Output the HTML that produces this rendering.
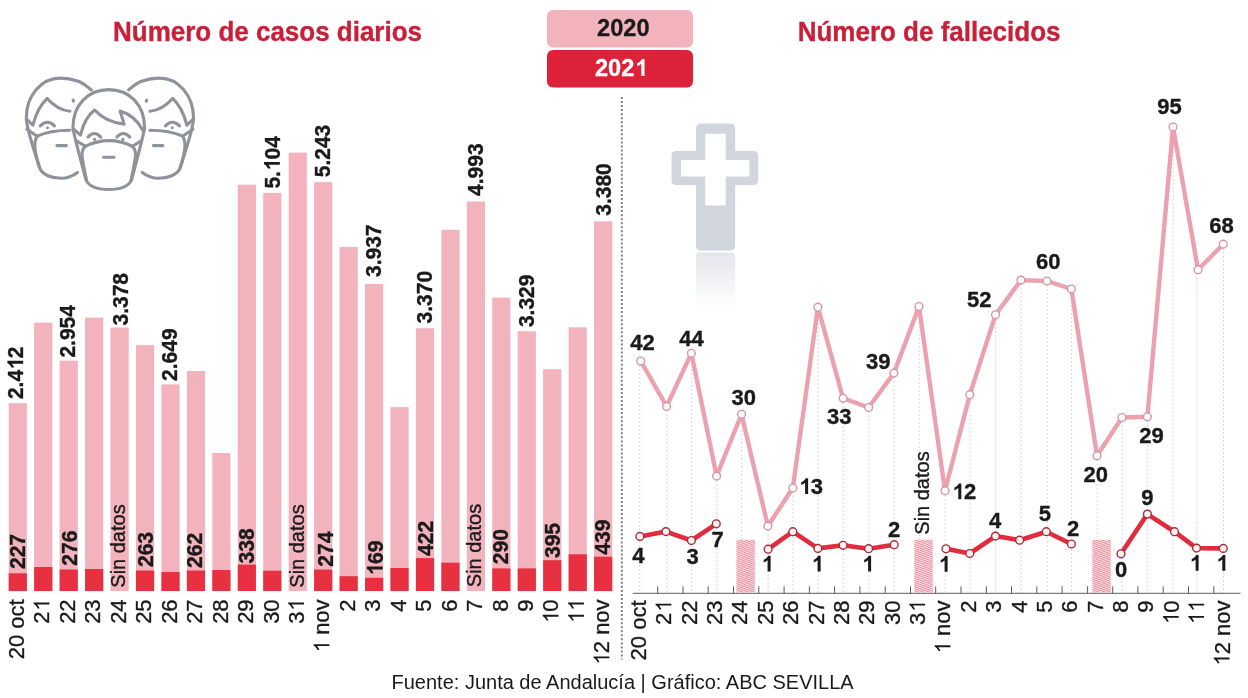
<!DOCTYPE html>
<html lang="es"><head><meta charset="utf-8"><title>Casos diarios y fallecidos</title>
<style>html,body{margin:0;padding:0;background:#fff}body{width:1248px;height:698px;overflow:hidden}svg{display:block}text{font-family:"Liberation Sans", sans-serif;white-space:pre}.k text,.k path,.k2{stroke:#1a1a1a;stroke-width:.35px}</style>
</head><body>
<svg width="1248" height="698" viewBox="0 0 1248 698" style="will-change:transform;filter:blur(.4px)">
<defs>
<pattern id="hatch" width="2" height="2" patternUnits="userSpaceOnUse" patternTransform="rotate(20)"><rect width="2" height="2" fill="#fde6e9"/><rect width="2" height="1" fill="#e98a9a"/></pattern>
<linearGradient id="refl" x1="0" y1="0" x2="0" y2="1"><stop offset="0" stop-color="#d1d6de" stop-opacity="0.62"/><stop offset="0.35" stop-color="#d1d6de" stop-opacity="0.4"/><stop offset="0.7" stop-color="#d1d6de" stop-opacity="0.16"/><stop offset="1" stop-color="#d1d6de" stop-opacity="0"/></linearGradient>
</defs>
<rect width="1248" height="698" fill="#ffffff"/>
<text transform="translate(113 41.3) scale(1 1.05)" font-size="26" font-weight="700" fill="#c91f38" stroke="#c91f38" stroke-width=".35">Número de casos diarios</text>
<text transform="translate(797.7 41.0) scale(1 1.05)" font-size="26" font-weight="700" fill="#c91f38" stroke="#c91f38" stroke-width=".35">Número de fallecidos</text>
<rect x="547" y="10" width="146" height="37.5" rx="6" fill="#f2b3bd"/>
<rect x="547" y="50" width="146" height="37.5" rx="6" fill="#dc2139"/>
<g transform="translate(623.3 36.3)" font-size="23.6" font-weight="700" fill="#1a1a1a" stroke="#1a1a1a" stroke-width=".3"><text x="-26.25" y="0">2020</text></g>
<g transform="translate(621.2 75.9)" font-size="23.6" font-weight="700" fill="#ffffff" stroke="#ffffff" stroke-width=".3"><text x="-26.25" y="0">202</text><path transform="translate(14.05 0) scale(0.01152 -0.01152)" d="M806 0H525V1059Q371 915 162 846V1101Q272 1137 401 1237.5Q530 1338 578 1472H806Z"/></g>
<line x1="621.8" y1="97" x2="621.8" y2="659.5" stroke="#757575" stroke-width="1.8" stroke-dasharray="2 2.04"/>
<g id="bars">
<rect x="8.70" y="403.20" width="18.20" height="187.80" fill="#f2b3bd"/>
<rect x="8.70" y="573.30" width="18.20" height="17.70" fill="#e73140"/>
<rect x="34.15" y="322.60" width="18.20" height="268.40" fill="#f2b3bd"/>
<rect x="34.15" y="567.00" width="18.20" height="24.00" fill="#e73140"/>
<rect x="59.60" y="360.60" width="18.20" height="230.40" fill="#f2b3bd"/>
<rect x="59.60" y="569.50" width="18.20" height="21.50" fill="#e73140"/>
<rect x="85.05" y="317.60" width="18.20" height="273.40" fill="#f2b3bd"/>
<rect x="85.05" y="569.00" width="18.20" height="22.00" fill="#e73140"/>
<rect x="110.50" y="327.50" width="18.20" height="263.50" fill="#f2b3bd"/>
<rect x="135.95" y="345.10" width="18.20" height="245.90" fill="#f2b3bd"/>
<rect x="135.95" y="570.50" width="18.20" height="20.50" fill="#e73140"/>
<rect x="161.40" y="384.40" width="18.20" height="206.60" fill="#f2b3bd"/>
<rect x="161.40" y="572.00" width="18.20" height="19.00" fill="#e73140"/>
<rect x="186.85" y="371.00" width="18.20" height="220.00" fill="#f2b3bd"/>
<rect x="186.85" y="570.50" width="18.20" height="20.50" fill="#e73140"/>
<rect x="212.30" y="453.00" width="18.20" height="138.00" fill="#f2b3bd"/>
<rect x="212.30" y="570.00" width="18.20" height="21.00" fill="#e73140"/>
<rect x="237.75" y="184.70" width="18.20" height="406.30" fill="#f2b3bd"/>
<rect x="237.75" y="564.60" width="18.20" height="26.40" fill="#e73140"/>
<rect x="263.20" y="192.90" width="18.20" height="398.10" fill="#f2b3bd"/>
<rect x="263.20" y="570.70" width="18.20" height="20.30" fill="#e73140"/>
<rect x="288.65" y="152.60" width="18.20" height="438.40" fill="#f2b3bd"/>
<rect x="314.10" y="182.10" width="18.20" height="408.90" fill="#f2b3bd"/>
<rect x="314.10" y="569.60" width="18.20" height="21.40" fill="#e73140"/>
<rect x="339.55" y="246.90" width="18.20" height="344.10" fill="#f2b3bd"/>
<rect x="339.55" y="576.20" width="18.20" height="14.80" fill="#e73140"/>
<rect x="365.00" y="283.90" width="18.20" height="307.10" fill="#f2b3bd"/>
<rect x="365.00" y="577.80" width="18.20" height="13.20" fill="#e73140"/>
<rect x="390.45" y="407.10" width="18.20" height="183.90" fill="#f2b3bd"/>
<rect x="390.45" y="568.00" width="18.20" height="23.00" fill="#e73140"/>
<rect x="415.90" y="328.20" width="18.20" height="262.80" fill="#f2b3bd"/>
<rect x="415.90" y="558.10" width="18.20" height="32.90" fill="#e73140"/>
<rect x="441.35" y="229.80" width="18.20" height="361.20" fill="#f2b3bd"/>
<rect x="441.35" y="562.70" width="18.20" height="28.30" fill="#e73140"/>
<rect x="466.80" y="201.50" width="18.20" height="389.50" fill="#f2b3bd"/>
<rect x="492.25" y="297.60" width="18.20" height="293.40" fill="#f2b3bd"/>
<rect x="492.25" y="568.40" width="18.20" height="22.60" fill="#e73140"/>
<rect x="517.70" y="331.30" width="18.20" height="259.70" fill="#f2b3bd"/>
<rect x="517.70" y="568.40" width="18.20" height="22.60" fill="#e73140"/>
<rect x="543.15" y="369.20" width="18.20" height="221.80" fill="#f2b3bd"/>
<rect x="543.15" y="560.20" width="18.20" height="30.80" fill="#e73140"/>
<rect x="568.60" y="327.30" width="18.20" height="263.70" fill="#f2b3bd"/>
<rect x="568.60" y="554.30" width="18.20" height="36.70" fill="#e73140"/>
<rect x="594.05" y="221.40" width="18.20" height="369.60" fill="#f2b3bd"/>
<rect x="594.05" y="556.70" width="18.20" height="34.30" fill="#e73140"/>
</g>
<g id="barlabels" class="k" font-weight="700" font-size="22" fill="#1a1a1a">
<g transform="translate(23.20 399.10) rotate(-90) scale(0.955 1)"><text x="0.00" y="0">2.4</text><path transform="translate(31.44 0) scale(0.01074 -0.01074)" d="M806 0H525V1059Q371 915 162 846V1101Q272 1137 401 1237.5Q530 1338 578 1472H806Z"/><text x="42.82" y="0">2</text></g>
<g transform="translate(24.80 569.10) rotate(-90) scale(0.96 1)"><text x="0.00" y="0">227</text></g>
<g transform="translate(74.80 357.60) rotate(-90) scale(0.955 1)"><text x="0.00" y="0">2.954</text></g>
<g transform="translate(76.80 565.70) rotate(-90) scale(0.96 1)"><text x="0.00" y="0">276</text></g>
<g transform="translate(128.20 325.50) rotate(-90) scale(0.955 1)"><text x="0.00" y="0">3.378</text></g>
<g transform="translate(152.75 567.10) rotate(-90) scale(0.96 1)"><text x="0.00" y="0">263</text></g>
<g transform="translate(177.20 380.90) rotate(-90) scale(0.955 1)"><text x="0.00" y="0">2.649</text></g>
<g transform="translate(202.15 568.00) rotate(-90) scale(0.96 1)"><text x="0.00" y="0">262</text></g>
<g transform="translate(253.65 563.40) rotate(-90) scale(0.96 1)"><text x="0.00" y="0">338</text></g>
<g transform="translate(279.80 188.60) rotate(-90) scale(0.955 1)"><text x="0.00" y="0">5.</text><path transform="translate(19.21 0) scale(0.01074 -0.01074)" d="M806 0H525V1059Q371 915 162 846V1101Q272 1137 401 1237.5Q530 1338 578 1472H806Z"/><text x="30.58" y="0">04</text></g>
<g transform="translate(329.80 177.30) rotate(-90) scale(0.955 1)"><text x="0.00" y="0">5.243</text></g>
<g transform="translate(332.70 566.80) rotate(-90) scale(0.96 1)"><text x="0.00" y="0">274</text></g>
<g transform="translate(380.90 277.00) rotate(-90) scale(0.955 1)"><text x="0.00" y="0">3.937</text></g>
<g transform="translate(382.70 575.70) rotate(-90) scale(0.96 1)"><path transform="translate(0.86 0) scale(0.01074 -0.01074)" d="M806 0H525V1059Q371 915 162 846V1101Q272 1137 401 1237.5Q530 1338 578 1472H806Z"/><text x="12.24" y="0">69</text></g>
<g transform="translate(432.10 323.40) rotate(-90) scale(0.955 1)"><text x="0.00" y="0">3.370</text></g>
<g transform="translate(433.10 556.00) rotate(-90) scale(0.96 1)"><text x="0.00" y="0">422</text></g>
<g transform="translate(483.30 195.90) rotate(-90) scale(0.955 1)"><text x="0.00" y="0">4.993</text></g>
<g transform="translate(508.45 564.20) rotate(-90) scale(0.96 1)"><text x="0.00" y="0">290</text></g>
<g transform="translate(534.10 327.10) rotate(-90) scale(0.955 1)"><text x="0.00" y="0">3.329</text></g>
<g transform="translate(559.65 558.10) rotate(-90) scale(0.96 1)"><text x="0.00" y="0">395</text></g>
<g transform="translate(610.75 215.80) rotate(-90) scale(0.955 1)"><text x="0.00" y="0">3.380</text></g>
<g transform="translate(610.45 554.70) rotate(-90) scale(0.96 1)"><text x="0.00" y="0">439</text></g>
</g>
<g id="sindatos" class="k" font-size="20" fill="#1a1a1a">
<text transform="translate(124.90 587.70) rotate(-90) scale(1 1.04)">Sin datos</text>
<text transform="translate(304.25 587.70) rotate(-90) scale(1 1.04)">Sin datos</text>
<text transform="translate(481.10 587.20) rotate(-90) scale(1 1.04)">Sin datos</text>
</g>
<g id="xl" class="k" font-size="22" fill="#1a1a1a">
<g transform="translate(24.00 599.40) rotate(-90)"><text x="-59.93" y="0">20 oct</text></g>
<g transform="translate(49.45 599.40) rotate(-90)"><text x="-24.47" y="0">2</text><path transform="translate(-11.38 0) scale(0.01074 -0.01074)" d="M763 0H583V1147Q518 1085 412.5 1023Q307 961 223 930V1104Q374 1175 487 1276Q600 1377 647 1472H763Z"/></g>
<g transform="translate(74.90 599.40) rotate(-90)"><text x="-24.47" y="0">22</text></g>
<g transform="translate(100.35 599.40) rotate(-90)"><text x="-24.47" y="0">23</text></g>
<g transform="translate(125.80 599.40) rotate(-90)"><text x="-24.47" y="0">24</text></g>
<g transform="translate(151.25 599.40) rotate(-90)"><text x="-24.47" y="0">25</text></g>
<g transform="translate(176.70 599.40) rotate(-90)"><text x="-24.47" y="0">26</text></g>
<g transform="translate(202.15 599.40) rotate(-90)"><text x="-24.47" y="0">27</text></g>
<g transform="translate(227.60 599.40) rotate(-90)"><text x="-24.47" y="0">28</text></g>
<g transform="translate(253.05 599.40) rotate(-90)"><text x="-24.47" y="0">29</text></g>
<g transform="translate(278.50 599.40) rotate(-90)"><text x="-24.47" y="0">30</text></g>
<g transform="translate(303.95 599.40) rotate(-90)"><text x="-24.47" y="0">3</text><path transform="translate(-11.38 0) scale(0.01074 -0.01074)" d="M763 0H583V1147Q518 1085 412.5 1023Q307 961 223 930V1104Q374 1175 487 1276Q600 1377 647 1472H763Z"/></g>
<g transform="translate(329.40 599.40) rotate(-90)"><path transform="translate(-52.96 0) scale(0.01074 -0.01074)" d="M763 0H583V1147Q518 1085 412.5 1023Q307 961 223 930V1104Q374 1175 487 1276Q600 1377 647 1472H763Z"/><text x="-41.58" y="0"> nov</text></g>
<g transform="translate(354.85 599.40) rotate(-90)"><text x="-12.24" y="0">2</text></g>
<g transform="translate(380.30 599.40) rotate(-90)"><text x="-12.24" y="0">3</text></g>
<g transform="translate(405.75 599.40) rotate(-90)"><text x="-12.24" y="0">4</text></g>
<g transform="translate(431.20 599.40) rotate(-90)"><text x="-12.24" y="0">5</text></g>
<g transform="translate(456.65 599.40) rotate(-90)"><text x="-12.24" y="0">6</text></g>
<g transform="translate(482.10 599.40) rotate(-90)"><text x="-12.24" y="0">7</text></g>
<g transform="translate(507.55 599.40) rotate(-90)"><text x="-12.24" y="0">8</text></g>
<g transform="translate(533.00 599.40) rotate(-90)"><text x="-12.24" y="0">9</text></g>
<g transform="translate(558.45 599.40) rotate(-90)"><path transform="translate(-23.61 0) scale(0.01074 -0.01074)" d="M763 0H583V1147Q518 1085 412.5 1023Q307 961 223 930V1104Q374 1175 487 1276Q600 1377 647 1472H763Z"/><text x="-12.24" y="0">0</text></g>
<g transform="translate(583.90 599.40) rotate(-90)"><path transform="translate(-23.61 0) scale(0.01074 -0.01074)" d="M763 0H583V1147Q518 1085 412.5 1023Q307 961 223 930V1104Q374 1175 487 1276Q600 1377 647 1472H763Z"/><path transform="translate(-11.38 0) scale(0.01074 -0.01074)" d="M763 0H583V1147Q518 1085 412.5 1023Q307 961 223 930V1104Q374 1175 487 1276Q600 1377 647 1472H763Z"/></g>
<g transform="translate(609.35 599.40) rotate(-90)"><path transform="translate(-65.19 0) scale(0.01074 -0.01074)" d="M763 0H583V1147Q518 1085 412.5 1023Q307 961 223 930V1104Q374 1175 487 1276Q600 1377 647 1472H763Z"/><text x="-53.82" y="0">2 nov</text></g>
</g>
<g id="guides" stroke="#cfd1d3" stroke-width="1" stroke-dasharray="1.7 2.3">
<line x1="639.7" y1="365.0" x2="639.7" y2="593.3"/>
<line x1="666.8" y1="410.4" x2="666.8" y2="593.3"/>
<line x1="691.6" y1="357.3" x2="691.6" y2="593.3"/>
<line x1="716.8" y1="480.1" x2="716.8" y2="593.3"/>
<line x1="741.7" y1="418.3" x2="741.7" y2="593.3"/>
<line x1="768.1" y1="530.1" x2="768.1" y2="593.3"/>
<line x1="793.0" y1="492.0" x2="793.0" y2="593.3"/>
<line x1="818.1" y1="311.2" x2="818.1" y2="593.3"/>
<line x1="843.3" y1="402.3" x2="843.3" y2="593.3"/>
<line x1="868.8" y1="411.5" x2="868.8" y2="593.3"/>
<line x1="894.1" y1="377.1" x2="894.1" y2="593.3"/>
<line x1="919.2" y1="310.5" x2="919.2" y2="593.3"/>
<line x1="945.2" y1="494.7" x2="945.2" y2="593.3"/>
<line x1="970.0" y1="398.7" x2="970.0" y2="593.3"/>
<line x1="995.7" y1="318.8" x2="995.7" y2="593.3"/>
<line x1="1021.2" y1="284.1" x2="1021.2" y2="593.3"/>
<line x1="1047.2" y1="285.0" x2="1047.2" y2="593.3"/>
<line x1="1071.6" y1="293.0" x2="1071.6" y2="593.3"/>
<line x1="1097.2" y1="459.8" x2="1097.2" y2="593.3"/>
<line x1="1122.2" y1="421.5" x2="1122.2" y2="593.3"/>
<line x1="1147.6" y1="420.8" x2="1147.6" y2="593.3"/>
<line x1="1173.2" y1="131.0" x2="1173.2" y2="593.3"/>
<line x1="1196.7" y1="273.7" x2="1196.7" y2="593.3"/>
<line x1="1223.5" y1="248.2" x2="1223.5" y2="593.3"/>
</g>
<line x1="632.8" y1="593.3" x2="1240.5" y2="593.3" stroke="#4a4a4a" stroke-width="0.9"/>
<g stroke="#4a4a4a" stroke-width="0.9">
<line x1="657.7" y1="586.3" x2="657.7" y2="593.3"/>
<line x1="683.0" y1="586.3" x2="683.0" y2="593.3"/>
<line x1="708.2" y1="586.3" x2="708.2" y2="593.3"/>
<line x1="733.5" y1="586.3" x2="733.5" y2="593.3"/>
<line x1="758.8" y1="586.3" x2="758.8" y2="593.3"/>
<line x1="784.1" y1="586.3" x2="784.1" y2="593.3"/>
<line x1="809.4" y1="586.3" x2="809.4" y2="593.3"/>
<line x1="834.6" y1="586.3" x2="834.6" y2="593.3"/>
<line x1="859.9" y1="586.3" x2="859.9" y2="593.3"/>
<line x1="885.2" y1="586.3" x2="885.2" y2="593.3"/>
<line x1="910.5" y1="586.3" x2="910.5" y2="593.3"/>
<line x1="935.7" y1="586.3" x2="935.7" y2="593.3"/>
<line x1="961.0" y1="586.3" x2="961.0" y2="593.3"/>
<line x1="986.3" y1="586.3" x2="986.3" y2="593.3"/>
<line x1="1011.5" y1="586.3" x2="1011.5" y2="593.3"/>
<line x1="1036.8" y1="586.3" x2="1036.8" y2="593.3"/>
<line x1="1062.1" y1="586.3" x2="1062.1" y2="593.3"/>
<line x1="1087.4" y1="586.3" x2="1087.4" y2="593.3"/>
<line x1="1112.7" y1="586.3" x2="1112.7" y2="593.3"/>
<line x1="1137.9" y1="586.3" x2="1137.9" y2="593.3"/>
<line x1="1163.2" y1="586.3" x2="1163.2" y2="593.3"/>
<line x1="1188.5" y1="586.3" x2="1188.5" y2="593.3"/>
<line x1="1213.8" y1="586.3" x2="1213.8" y2="593.3"/>
</g>
<rect x="736.4" y="539.8" width="18.5" height="52.6" fill="url(#hatch)"/>
<rect x="914.3" y="539.8" width="18.5" height="52.6" fill="url(#hatch)"/>
<rect x="1092.3" y="539.8" width="18.5" height="52.6" fill="url(#hatch)"/>
<polyline points="640.7,361.0 666.6,406.4 691.4,353.3 716.6,476.1 741.5,414.3 767.9,526.1 792.8,488.0 817.9,307.2 843.1,398.3 868.6,407.5 893.9,373.1 919.0,306.5 945.0,490.7 969.8,394.7 995.5,314.8 1021.0,280.1 1047.0,281.0 1071.4,289.0 1097.0,455.8 1122.0,417.5 1147.4,416.8 1173.0,127.0 1198.0,269.7 1223.3,244.2" fill="none" stroke="#eca1ae" stroke-width="4.4" stroke-linejoin="round" stroke-linecap="round"/>
<polyline points="639.9,536.4 665.9,531.6 691.4,540.5 716.3,523.8" fill="none" stroke="#e22b3c" stroke-width="4.6" stroke-linejoin="round" stroke-linecap="round"/>
<polyline points="768.1,549.2 792.8,531.7 817.9,548.4 843.1,545.3 868.6,548.7 894.2,544.7" fill="none" stroke="#e22b3c" stroke-width="4.6" stroke-linejoin="round" stroke-linecap="round"/>
<polyline points="946.0,548.8 969.8,553.5 995.5,536.1 1019.6,540.2 1046.3,531.7 1071.4,544.0" fill="none" stroke="#e22b3c" stroke-width="4.6" stroke-linejoin="round" stroke-linecap="round"/>
<polyline points="1121.0,553.8 1147.4,514.1 1174.5,531.7 1196.5,548.1 1223.3,548.4" fill="none" stroke="#e22b3c" stroke-width="4.6" stroke-linejoin="round" stroke-linecap="round"/>
<g fill="#fffafa" stroke="#cf98a7" stroke-width="1.4">
<circle cx="640.7" cy="361.0" r="3.9"/>
<circle cx="666.6" cy="406.4" r="3.9"/>
<circle cx="691.4" cy="353.3" r="3.9"/>
<circle cx="716.6" cy="476.1" r="3.9"/>
<circle cx="741.5" cy="414.3" r="3.9"/>
<circle cx="767.9" cy="526.1" r="3.9"/>
<circle cx="792.8" cy="488.0" r="3.9"/>
<circle cx="817.9" cy="307.2" r="3.9"/>
<circle cx="843.1" cy="398.3" r="3.9"/>
<circle cx="868.6" cy="407.5" r="3.9"/>
<circle cx="893.9" cy="373.1" r="3.9"/>
<circle cx="919.0" cy="306.5" r="3.9"/>
<circle cx="945.0" cy="490.7" r="3.9"/>
<circle cx="969.8" cy="394.7" r="3.9"/>
<circle cx="995.5" cy="314.8" r="3.9"/>
<circle cx="1021.0" cy="280.1" r="3.9"/>
<circle cx="1047.0" cy="281.0" r="3.9"/>
<circle cx="1071.4" cy="289.0" r="3.9"/>
<circle cx="1097.0" cy="455.8" r="3.9"/>
<circle cx="1122.0" cy="417.5" r="3.9"/>
<circle cx="1147.4" cy="416.8" r="3.9"/>
<circle cx="1173.0" cy="127.0" r="3.9"/>
<circle cx="1198.0" cy="269.7" r="3.9"/>
<circle cx="1223.3" cy="244.2" r="3.9"/>
</g>
<g fill="#fff1f2" stroke="#a82b39" stroke-width="1.4">
<circle cx="639.9" cy="536.4" r="3.9"/>
<circle cx="665.9" cy="531.6" r="3.9"/>
<circle cx="691.4" cy="540.5" r="3.9"/>
<circle cx="716.3" cy="523.8" r="3.9"/>
<circle cx="768.1" cy="549.2" r="3.9"/>
<circle cx="792.8" cy="531.7" r="3.9"/>
<circle cx="817.9" cy="548.4" r="3.9"/>
<circle cx="843.1" cy="545.3" r="3.9"/>
<circle cx="868.6" cy="548.7" r="3.9"/>
<circle cx="894.2" cy="544.7" r="3.9"/>
<circle cx="946.0" cy="548.8" r="3.9"/>
<circle cx="969.8" cy="553.5" r="3.9"/>
<circle cx="995.5" cy="536.1" r="3.9"/>
<circle cx="1019.6" cy="540.2" r="3.9"/>
<circle cx="1046.3" cy="531.7" r="3.9"/>
<circle cx="1071.4" cy="544.0" r="3.9"/>
<circle cx="1121.0" cy="553.8" r="3.9"/>
<circle cx="1147.4" cy="514.1" r="3.9"/>
<circle cx="1174.5" cy="531.7" r="3.9"/>
<circle cx="1196.5" cy="548.1" r="3.9"/>
<circle cx="1223.3" cy="548.4" r="3.9"/>
</g>
<g id="ptlabels" class="k" font-weight="700" font-size="22" fill="#1a1a1a">
<g transform="translate(630.2 349.8)"><text x="0.00" y="0">42</text></g>
<g transform="translate(679.2 345.8)"><text x="0.00" y="0">44</text></g>
<g transform="translate(731.5 404.8)"><text x="0.00" y="0">30</text></g>
<g transform="translate(798.6 494.0)"><path transform="translate(0.86 0) scale(0.01074 -0.01074)" d="M806 0H525V1059Q371 915 162 846V1101Q272 1137 401 1237.5Q530 1338 578 1472H806Z"/><text x="12.24" y="0">3</text></g>
<g transform="translate(827.0 423.6)"><text x="0.00" y="0">33</text></g>
<g transform="translate(866.0 369.0)"><text x="0.00" y="0">39</text></g>
<g transform="translate(966.9 307.3)"><text x="0.00" y="0">52</text></g>
<g transform="translate(1036.0 269.2)"><text x="0.00" y="0">60</text></g>
<g transform="translate(951.8 499.3)"><path transform="translate(0.86 0) scale(0.01074 -0.01074)" d="M806 0H525V1059Q371 915 162 846V1101Q272 1137 401 1237.5Q530 1338 578 1472H806Z"/><text x="12.24" y="0">2</text></g>
<g transform="translate(1083.4 482.0)"><text x="0.00" y="0">20</text></g>
<g transform="translate(1139.2 442.5)"><text x="0.00" y="0">29</text></g>
<g transform="translate(1157.2 114.0)"><text x="0.00" y="0">95</text></g>
<g transform="translate(1209.2 232.9)"><text x="0.00" y="0">68</text></g>
<g transform="translate(632.3 563.1)"><text x="0.00" y="0">4</text></g>
<g transform="translate(686.6 564.4)"><text x="0.00" y="0">3</text></g>
<g transform="translate(711.4 547.4)"><text x="0.00" y="0">7</text></g>
<g transform="translate(761.1 571.6)"><path transform="translate(0.86 0) scale(0.01074 -0.01074)" d="M806 0H525V1059Q371 915 162 846V1101Q272 1137 401 1237.5Q530 1338 578 1472H806Z"/></g>
<g transform="translate(811.1 571.6)"><path transform="translate(0.86 0) scale(0.01074 -0.01074)" d="M806 0H525V1059Q371 915 162 846V1101Q272 1137 401 1237.5Q530 1338 578 1472H806Z"/></g>
<g transform="translate(861.6 571.6)"><path transform="translate(0.86 0) scale(0.01074 -0.01074)" d="M806 0H525V1059Q371 915 162 846V1101Q272 1137 401 1237.5Q530 1338 578 1472H806Z"/></g>
<g transform="translate(888.0 536.6)"><text x="0.00" y="0">2</text></g>
<g transform="translate(938.1 571.8)"><path transform="translate(0.86 0) scale(0.01074 -0.01074)" d="M806 0H525V1059Q371 915 162 846V1101Q272 1137 401 1237.5Q530 1338 578 1472H806Z"/></g>
<g transform="translate(988.9 527.6)"><text x="0.00" y="0">4</text></g>
<g transform="translate(1038.7 521.3)"><text x="0.00" y="0">5</text></g>
<g transform="translate(1067.0 535.5)"><text x="0.00" y="0">2</text></g>
<g transform="translate(1115.0 577.1)"><text x="0.00" y="0">0</text></g>
<g transform="translate(1141.2 504.7)"><text x="0.00" y="0">9</text></g>
<g transform="translate(1189.1 570.8)"><path transform="translate(0.86 0) scale(0.01074 -0.01074)" d="M806 0H525V1059Q371 915 162 846V1101Q272 1137 401 1237.5Q530 1338 578 1472H806Z"/></g>
<g transform="translate(1215.8 570.8)"><path transform="translate(0.86 0) scale(0.01074 -0.01074)" d="M806 0H525V1059Q371 915 162 846V1101Q272 1137 401 1237.5Q530 1338 578 1472H806Z"/></g>
</g>
<text class="k2" transform="translate(928.8 534.7) rotate(-90) scale(1 1.04)" font-size="20" fill="#1a1a1a">Sin datos</text>
<g id="xr" class="k" font-size="22" fill="#1a1a1a">
<g transform="translate(646.00 600.50) rotate(-90)"><text x="-59.93" y="0">20 oct</text></g>
<g transform="translate(671.37 600.50) rotate(-90)"><text x="-24.47" y="0">2</text><path transform="translate(-11.38 0) scale(0.01074 -0.01074)" d="M763 0H583V1147Q518 1085 412.5 1023Q307 961 223 930V1104Q374 1175 487 1276Q600 1377 647 1472H763Z"/></g>
<g transform="translate(696.74 600.50) rotate(-90)"><text x="-24.47" y="0">22</text></g>
<g transform="translate(722.11 600.50) rotate(-90)"><text x="-24.47" y="0">23</text></g>
<g transform="translate(747.48 600.50) rotate(-90)"><text x="-24.47" y="0">24</text></g>
<g transform="translate(772.85 600.50) rotate(-90)"><text x="-24.47" y="0">25</text></g>
<g transform="translate(798.22 600.50) rotate(-90)"><text x="-24.47" y="0">26</text></g>
<g transform="translate(823.59 600.50) rotate(-90)"><text x="-24.47" y="0">27</text></g>
<g transform="translate(848.96 600.50) rotate(-90)"><text x="-24.47" y="0">28</text></g>
<g transform="translate(874.33 600.50) rotate(-90)"><text x="-24.47" y="0">29</text></g>
<g transform="translate(899.70 600.50) rotate(-90)"><text x="-24.47" y="0">30</text></g>
<g transform="translate(925.07 600.50) rotate(-90)"><text x="-24.47" y="0">3</text><path transform="translate(-11.38 0) scale(0.01074 -0.01074)" d="M763 0H583V1147Q518 1085 412.5 1023Q307 961 223 930V1104Q374 1175 487 1276Q600 1377 647 1472H763Z"/></g>
<g transform="translate(950.44 600.50) rotate(-90)"><path transform="translate(-52.96 0) scale(0.01074 -0.01074)" d="M763 0H583V1147Q518 1085 412.5 1023Q307 961 223 930V1104Q374 1175 487 1276Q600 1377 647 1472H763Z"/><text x="-41.58" y="0"> nov</text></g>
<g transform="translate(975.81 600.50) rotate(-90)"><text x="-12.24" y="0">2</text></g>
<g transform="translate(1001.18 600.50) rotate(-90)"><text x="-12.24" y="0">3</text></g>
<g transform="translate(1026.55 600.50) rotate(-90)"><text x="-12.24" y="0">4</text></g>
<g transform="translate(1051.92 600.50) rotate(-90)"><text x="-12.24" y="0">5</text></g>
<g transform="translate(1077.29 600.50) rotate(-90)"><text x="-12.24" y="0">6</text></g>
<g transform="translate(1102.66 600.50) rotate(-90)"><text x="-12.24" y="0">7</text></g>
<g transform="translate(1128.03 600.50) rotate(-90)"><text x="-12.24" y="0">8</text></g>
<g transform="translate(1153.40 600.50) rotate(-90)"><text x="-12.24" y="0">9</text></g>
<g transform="translate(1178.77 600.50) rotate(-90)"><path transform="translate(-23.61 0) scale(0.01074 -0.01074)" d="M763 0H583V1147Q518 1085 412.5 1023Q307 961 223 930V1104Q374 1175 487 1276Q600 1377 647 1472H763Z"/><text x="-12.24" y="0">0</text></g>
<g transform="translate(1204.14 600.50) rotate(-90)"><path transform="translate(-23.61 0) scale(0.01074 -0.01074)" d="M763 0H583V1147Q518 1085 412.5 1023Q307 961 223 930V1104Q374 1175 487 1276Q600 1377 647 1472H763Z"/><path transform="translate(-11.38 0) scale(0.01074 -0.01074)" d="M763 0H583V1147Q518 1085 412.5 1023Q307 961 223 930V1104Q374 1175 487 1276Q600 1377 647 1472H763Z"/></g>
<g transform="translate(1229.51 600.50) rotate(-90)"><path transform="translate(-65.19 0) scale(0.01074 -0.01074)" d="M763 0H583V1147Q518 1085 412.5 1023Q307 961 223 930V1104Q374 1175 487 1276Q600 1377 647 1472H763Z"/><text x="-53.82" y="0">2 nov</text></g>
</g>
<text x="391.5" y="688.7" font-size="20" fill="#1a1a1a">Fuente: Junta de Andalucía | Gráfico: ABC SEVILLA</text>
<g id="cross">
<path fill-rule="evenodd" fill="#d1d6de" d="M701,123.6 H730.2 Q735.2,123.6 735.2,128.6 V151 H753.2 Q758.2,151 758.2,156 V180 Q758.2,185 753.2,185 H735.2 V245.6 Q735.2,250.6 730.2,250.6 H701 Q696,250.6 696,245.6 V185 H676.5 Q671.5,185 671.5,180 V156 Q671.5,151 676.5,151 H696 V128.6 Q696,123.6 701,123.6 Z M705.2,133.7 V159.9 H681 V176.6 H705.2 V205.6 H725.7 V176.6 H749.4 V159.9 H725.7 V133.7 Z"/>
<path d="M696,256.6 Q696,252.6 700,252.6 H731.2 Q735.2,252.6 735.2,256.6 V312 H696 Z" fill="url(#refl)"/>
</g>
<g id="faces" fill="none" stroke="#8e929a" stroke-width="3.1" stroke-linecap="round" stroke-linejoin="round">
<g><path d="M91.3,89.8 C83,82 72,78.1 60.4,78.1 C41,78.1 26.3,96 26.3,118 C26.3,128 31.5,142 39.5,167.5 C42,175 52,178.3 61.3,178.3 C67,178.3 73,176 77.5,172.5"/>
<path d="M26.5,119 L32.9,125.2 C36,113 41,104 47.2,98.4 C53,105 60,110 69.9,111.3"/>
<path d="M73.1,100.2 L73.6,101.2"/>
<path d="M40.3,125.9 Q47.5,118.5 54.4,125.9"/>
<circle cx="47.5" cy="127.8" r="1.5" fill="#8e929a" stroke="none"/>
<path d="M26.9,129.3 L37.2,136.2 C46,132 56,130.2 69.9,130.2"/>
<path d="M37.2,136.2 C33.5,142 34,150 39.5,167.5"/>
<path d="M57,145.6 H66.4"/></g>
<g transform="translate(219.8 0) scale(-1 1)"><path d="M91.3,89.8 C83,82 72,78.1 60.4,78.1 C41,78.1 26.3,96 26.3,118 C26.3,128 31.5,142 39.5,167.5 C42,175 52,178.3 61.3,178.3 C67,178.3 73,176 77.5,172.5"/>
<path d="M26.5,119 L32.9,125.2 C36,113 41,104 47.2,98.4 C53,105 60,110 69.9,111.3"/>
<path d="M73.1,100.2 L73.6,101.2"/>
<path d="M40.3,125.9 Q47.5,118.5 54.4,125.9"/>
<circle cx="47.5" cy="127.8" r="1.5" fill="#8e929a" stroke="none"/>
<path d="M26.9,129.3 L37.2,136.2 C46,132 56,130.2 69.9,130.2"/>
<path d="M37.2,136.2 C33.5,142 34,150 39.5,167.5"/>
<path d="M57,145.6 H66.4"/></g>
<path d="M72.9,128 C72.9,105 88,89.6 108.8,89.6 S144.6,105 144.6,128 C142.5,140 134,170 131.7,179.5 C128.5,187 118,189.5 108.8,189.5 C99.5,189.5 89,187 85.8,179.5 C83.5,170 75,140 72.9,128 Z"/>
<path d="M73.5,129 L80.5,135.2 C83,124 88,115 94.6,110 C102,118 112,123 124.1,124.1 L120.1,111 C130,114 138,121 142.7,130.1"/>
<path d="M88,137.1 Q94.3,129.8 100.8,137.1"/>
<path d="M116.9,137.1 Q123.2,129.8 129.8,137.1"/>
<circle cx="94.6" cy="139.4" r="1.6" fill="#8e929a" stroke="none"/>
<circle cx="122.9" cy="139.4" r="1.6" fill="#8e929a" stroke="none"/>
<path d="M76.2,140.6 L85.2,146.3 C93,142.5 100,140.6 109,140.6 C118,140.6 125,142.5 132.4,146.3 L141.6,140.6"/>
<path d="M85.2,146.3 C82.6,149 81.6,152 82.1,156 C83,164 85,173 86.6,180.5"/>
<path d="M132.4,146.3 C135,149 136,152 135.5,156 C134.6,164 132.6,173 131,180.5"/>
<path d="M103.5,157.3 H113.9"/>
</g>
</svg>
</body></html>
